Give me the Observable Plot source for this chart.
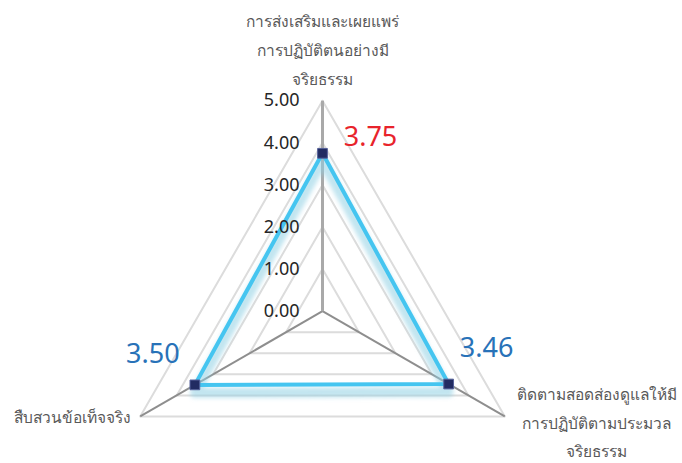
<!DOCTYPE html>
<html>
<head>
<meta charset="utf-8">
<script src="https://cdn.jsdelivr.net/npm/d3@7"></script>
<script src="https://cdn.jsdelivr.net/npm/@observablehq/plot@0.6"></script>
<style>
  html, body { margin: 0; padding: 0; background: #fff; }
  #chart svg { display: block; }
</style>
</head>
<body>
<div id="chart"></div>
<script>
// Radar (spider) chart with three axes, values on a 0–5 scale
const categories = [
  "การส่งเสริมและเผยแพร่\nการปฏิบัติตนอย่างมี\nจริยธรรม",
  "ติดตามสอดส่องดูแลให้มี\nการปฏิบัติตามประมวล\nจริยธรรม",
  "สืบสวนข้อเท็จจริง"
];
const values = [3.75, 3.46, 3.50];
const valueLabels = ["3.75", "3.46", "3.50"];
const tickLabels = ["0.00", "1.00", "2.00", "3.00", "4.00", "5.00"];

const maxValue = 5;
const n = categories.length;
const angleOf = i => (i * 2 * Math.PI) / n; // clockwise from the top
const px = (i, r) => r * Math.sin(angleOf(i));
const py = (i, r) => r * Math.cos(angleOf(i));

// Concentric triangular grid, one ring per integer level
const levels = tickLabels.map(Number).filter(v => v > 0);
const gridPts = levels.flatMap(level =>
  categories.map((c, i) => ({level, x: px(i, level), y: py(i, level)}))
);

const spokes = categories.map((c, i) => ({i, x: px(i, maxValue), y: py(i, maxValue)}));
const series = values.map((v, i) => ({i, v, label: valueLabels[i], x: px(i, v), y: py(i, v)}));

// label offsets per axis
const valueStyle = [
  {dx: 48, dy: -16, color: "#e8232b"},
  {dx: 38, dy: -36, color: "#2872b8"},
  {dx: -42, dy: -31, color: "#2872b8"}
];
const catStyle = [
  {dx: 0, dy: -54, anchor: "middle"},
  {dx: 92, dy: 3, anchor: "middle"},
  {dx: -9, dy: -3, anchor: "end"}
];

const cx = 322, cy = 310.7, R = 210.5;
const font = "'Noto Sans', 'Open Sans', sans-serif";
const shadowDrop = 0.19; // shadow drop, in value units (about 8px)
const shadowColor = "#8fd0e3";

const chart = Plot.plot({
  width: 682,
  height: 463,
  margin: 0,
  x: {domain: [-maxValue, maxValue], range: [cx - R, cx + R]},
  y: {domain: [-maxValue, maxValue], range: [cy + R, cy - R]},
  axis: null,
  style: {background: "#fff", fontFamily: font},
  marks: [
    Plot.line(gridPts, {x: "x", y: "y", z: "level", curve: "linear-closed", stroke: "#dcdcdc", strokeWidth: 2}),
    Plot.link(spokes.filter(d => d.i !== 0), {x1: () => 0, y1: () => 0, x2: "x", y2: "y", stroke: "#8e8e8e", strokeWidth: 2}),
    Plot.link(spokes.filter(d => d.i === 0), {x1: () => 0, y1: () => 0, x2: "x", y2: "y", stroke: "#a9a9a9", strokeWidth: 3}),
    Plot.line(series, {x: "x", y: d => d.y - shadowDrop, curve: "linear-closed", stroke: shadowColor, strokeWidth: 10, strokeOpacity: 0.55}),
    Plot.line(series, {x: "x", y: "y", curve: "linear-closed", stroke: "#45c5f0", strokeWidth: 4}),
    Plot.dot(series, {x: "x", y: "y", symbol: "square", r: 5.5, fill: "#222c62", stroke: "#56619a", strokeWidth: 1}),
    Plot.text(tickLabels, {x: () => 0, y: d => +d, text: d => d, dx: -23, textAnchor: "end", fontSize: 18, fill: "#262626"}),
    ...series.map((d, i) => Plot.text([d], {
      x: "x", y: "y", text: "label", dx: valueStyle[i].dx, dy: valueStyle[i].dy,
      textAnchor: "middle", fontSize: 27, fill: valueStyle[i].color
    })),
    ...spokes.map((d, i) => Plot.text([categories[i]], {
      x: () => d.x, y: () => d.y, text: t => t, dx: catStyle[i].dx, dy: catStyle[i].dy,
      textAnchor: catStyle[i].anchor, lineAnchor: "middle", lineHeight: 1.85,
      fontSize: 15.5, fill: "#595959"
    }))
  ]
});

// Soft blur on the shadow beneath the series outline
const svg = d3.select(chart);
svg.insert("defs", ":first-child")
  .append("filter")
  .attr("id", "series-shadow")
  .attr("filterUnits", "userSpaceOnUse")
  .attr("x", 0).attr("y", 0).attr("width", 682).attr("height", 463)
  .append("feGaussianBlur")
  .attr("stdDeviation", 2);
svg.selectAll("g").filter(function() {
  return (this.getAttribute("stroke") || "").toLowerCase() === shadowColor;
}).attr("filter", "url(#series-shadow)");

document.getElementById("chart").append(chart);
</script>
</body>
</html>
